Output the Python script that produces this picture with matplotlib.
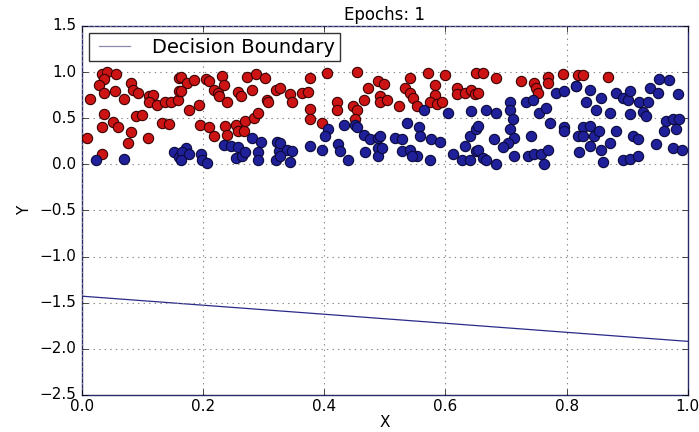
import matplotlib
matplotlib.use("Agg")
import matplotlib.pyplot as plt

# class 1 (red) points
red_x = [
    0.033, 0.042, 0.056, 0.036, 0.029, 0.037, 0.054, 0.081, 0.084, 0.092,
    0.013, 0.070, 0.111, 0.118, 0.111, 0.124, 0.137, 0.147, 0.158, 0.161,
    0.161, 0.036, 0.051, 0.060, 0.033, 0.089, 0.100, 0.133, 0.144, 0.081,
    0.009, 0.076, 0.109, 0.033,
    0.163, 0.174, 0.185, 0.163, 0.205, 0.210, 0.232, 0.235, 0.218, 0.224,
    0.227, 0.240, 0.257, 0.262, 0.281, 0.273, 0.287, 0.303, 0.320, 0.306,
    0.307, 0.177, 0.194, 0.195, 0.210, 0.237, 0.254, 0.257, 0.268, 0.240,
    0.270, 0.284, 0.290, 0.218,
    0.377, 0.404, 0.454, 0.327, 0.344, 0.347, 0.363, 0.374, 0.377, 0.377,
    0.396, 0.421, 0.421, 0.448, 0.454, 0.465, 0.473, 0.489, 0.492, 0.492,
    0.451,
    0.542, 0.572, 0.599, 0.651, 0.498, 0.534, 0.542, 0.547, 0.523, 0.553,
    0.583, 0.583, 0.575, 0.586, 0.594, 0.619, 0.619, 0.632, 0.643, 0.649,
    0.503,
    0.662, 0.684, 0.725, 0.747, 0.750, 0.752, 0.769, 0.769, 0.794, 0.818,
    0.654,
    0.827, 0.868,
]
red_y = [
    0.98, 1.00, 0.98, 0.92, 0.86, 0.77, 0.79, 0.88, 0.81, 0.77,
    0.71, 0.71, 0.74, 0.75, 0.67, 0.64, 0.67, 0.67, 0.70, 0.79,
    0.94, 0.54, 0.46, 0.40, 0.40, 0.52, 0.53, 0.45, 0.44, 0.35,
    0.29, 0.23, 0.29, 0.11,
    0.95, 0.88, 0.91, 0.79, 0.92, 0.90, 0.96, 0.86, 0.81, 0.77,
    0.74, 0.68, 0.78, 0.74, 0.81, 0.95, 0.98, 0.94, 0.81, 0.70,
    0.67, 0.59, 0.64, 0.43, 0.40, 0.41, 0.43, 0.36, 0.36, 0.32,
    0.47, 0.50, 0.56, 0.31,
    0.94, 0.99, 1.00, 0.83, 0.76, 0.67, 0.77, 0.78, 0.60, 0.49,
    0.45, 0.67, 0.59, 0.63, 0.59, 0.70, 0.83, 0.90, 0.74, 0.67,
    0.49,
    0.94, 0.99, 0.97, 0.99, 0.87, 0.83, 0.77, 0.72, 0.63, 0.63,
    0.86, 0.75, 0.67, 0.65, 0.67, 0.83, 0.76, 0.77, 0.81, 0.76,
    0.70,
    0.99, 0.94, 0.90, 0.88, 0.83, 0.77, 0.95, 0.88, 0.98, 0.97,
    0.77,
    0.97, 0.95,
]

# class 0 (blue) points
blue_x = [
    0.024, 0.070, 0.152, 0.161,
    0.172, 0.166, 0.177, 0.163, 0.196, 0.199, 0.207, 0.235, 0.246, 0.257,
    0.254, 0.265, 0.270, 0.281, 0.295, 0.290, 0.290, 0.322, 0.320, 0.325,
    0.407, 0.401, 0.432, 0.451, 0.454, 0.465, 0.476, 0.489, 0.327, 0.338,
    0.347, 0.327, 0.344, 0.377, 0.396, 0.423, 0.426, 0.440, 0.467, 0.489,
    0.489,
    0.564, 0.605, 0.643, 0.536, 0.556, 0.492, 0.517, 0.528, 0.558, 0.577,
    0.591, 0.495, 0.528, 0.542, 0.553, 0.545, 0.575, 0.613, 0.627, 0.641,
    0.641, 0.651, 0.632, 0.651,
    0.783, 0.796, 0.815, 0.706, 0.733, 0.744, 0.706, 0.667, 0.684, 0.755,
    0.766, 0.711, 0.654, 0.706, 0.772, 0.796, 0.796, 0.681, 0.714, 0.703,
    0.695, 0.741, 0.654, 0.662, 0.667, 0.684, 0.714, 0.736, 0.747, 0.758,
    0.769, 0.763, 0.818, 0.821,
    0.816, 0.838, 0.857, 0.832, 0.849, 0.882, 0.893, 0.901, 0.920, 0.934,
    0.904, 0.937, 0.950, 0.953, 0.969, 0.983, 0.926, 0.931, 0.904, 0.871,
    0.964, 0.975, 0.986, 0.961, 0.980, 0.827, 0.838, 0.827, 0.846, 0.854,
    0.882, 0.871, 0.857, 0.838, 0.909, 0.917, 0.948, 0.975, 0.991, 0.893,
    0.904, 0.917, 0.860,
]
blue_y = [
    0.05, 0.06, 0.13, 0.08,
    0.18, 0.13, 0.11, 0.05, 0.11, 0.05, 0.01, 0.21, 0.20, 0.19,
    0.07, 0.09, 0.13, 0.28, 0.24, 0.13, 0.05, 0.24, 0.05, 0.14,
    0.38, 0.31, 0.43, 0.43, 0.40, 0.32, 0.27, 0.29, 0.23, 0.16,
    0.14, 0.09, 0.03, 0.20, 0.16, 0.22, 0.14, 0.05, 0.13, 0.18,
    0.09,
    0.59, 0.56, 0.58, 0.45, 0.40, 0.31, 0.29, 0.27, 0.31, 0.27,
    0.24, 0.18, 0.14, 0.16, 0.09, 0.09, 0.05, 0.11, 0.05, 0.05,
    0.31, 0.38, 0.20, 0.14,
    0.77, 0.79, 0.85, 0.67, 0.67, 0.70, 0.59, 0.59, 0.56, 0.56,
    0.61, 0.49, 0.41, 0.38, 0.45, 0.40, 0.36, 0.27, 0.29, 0.23,
    0.19, 0.31, 0.16, 0.07, 0.05, 0.00, 0.09, 0.09, 0.11, 0.11,
    0.16, 0.00, 0.31, 0.13,
    0.85, 0.81, 0.72, 0.68, 0.59, 0.77, 0.72, 0.70, 0.68, 0.67,
    0.79, 0.83, 0.77, 0.92, 0.91, 0.76, 0.57, 0.52, 0.54, 0.56,
    0.47, 0.49, 0.49, 0.36, 0.38, 0.40, 0.41, 0.31, 0.31, 0.36,
    0.36, 0.23, 0.16, 0.20, 0.31, 0.27, 0.22, 0.18, 0.16, 0.05,
    0.06, 0.09, 0.02,
]

# decision boundary after the first epoch
boundary_x = [0.0, 1.0]
boundary_y = [-1.43, -1.92]

EPOCH = 1


def main() -> None:
    plt.style.use("classic")
    plt.rcParams["font.family"] = "DejaVu Sans"

    fig = plt.figure(figsize=(6.99, 4.32), dpi=100)
    fig.patch.set_facecolor("white")
    ax = fig.add_axes([0.117, 0.086, 0.867, 0.854])

    ax.scatter(red_x, red_y, s=55, c="#cc1414", edgecolors="#3a0000",
               linewidths=0.8, zorder=3)
    ax.scatter(blue_x, blue_y, s=55, c="#20209a", edgecolors="#0a0a3a",
               linewidths=0.8, zorder=3)
    ax.plot(boundary_x, boundary_y, color="#2a2a8a", linewidth=0.9,
            label="Decision Boundary")

    ax.set_xlim(0.0, 1.0)
    ax.set_ylim(-2.5, 1.5)
    ax.set_xticks([0.0, 0.2, 0.4, 0.6, 0.8, 1.0])
    ax.set_yticks([-2.5, -2.0, -1.5, -1.0, -0.5, 0.0, 0.5, 1.0, 1.5])
    ax.grid(True, linestyle=":", color="#888888", linewidth=0.8)
    ax.tick_params(labelsize=11)
    ax.tick_params(axis="x", pad=3)
    for sp in ax.spines.values():
        sp.set_color("#2a2a6a")

    ax.set_xlabel("X", fontsize=11, labelpad=1)
    ax.set_ylabel("Y", fontsize=11)
    ax.set_title(f"Epochs: {EPOCH}", fontsize=12, pad=4)

    leg = ax.legend(loc="upper left", fontsize=14, borderaxespad=0.35,
                    handlelength=2.2, borderpad=0.25)
    leg.get_frame().set_edgecolor("#333333")
    leg.get_lines()[0].set_color("#8a8ab0")

    fig.savefig("out.png", dpi=100, facecolor="white")


if __name__ == "__main__":
    main()
